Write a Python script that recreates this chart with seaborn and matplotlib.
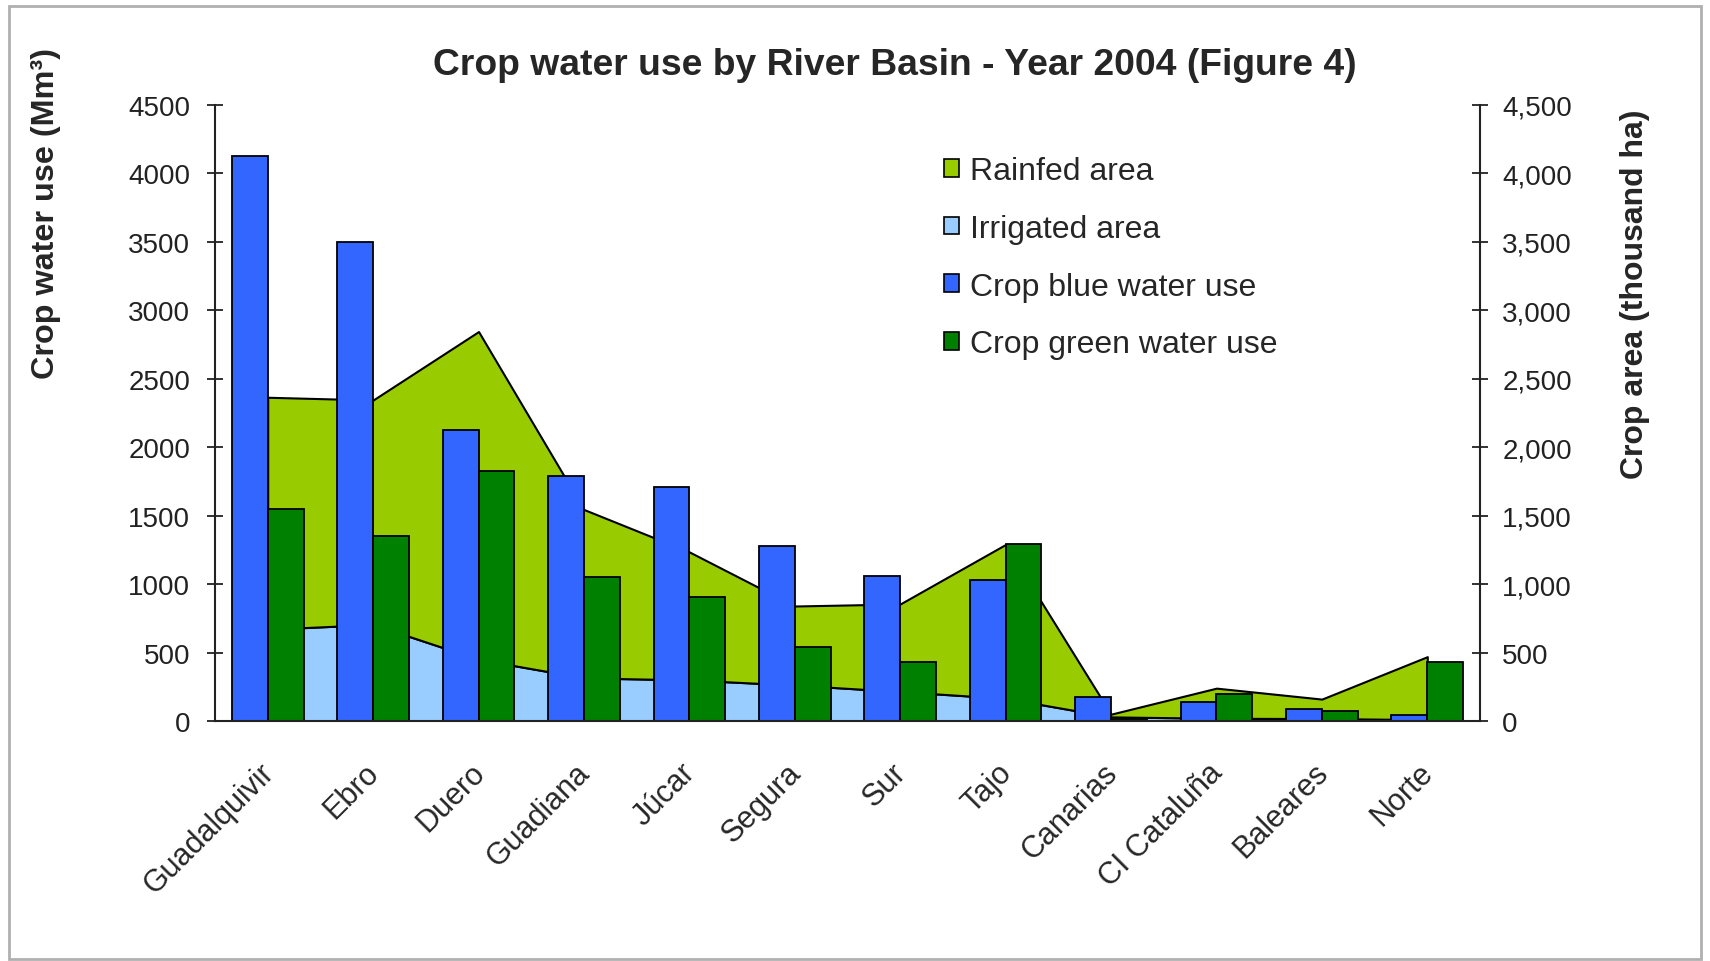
import numpy as np
import pandas as pd
import matplotlib
matplotlib.use('Agg')
import matplotlib.pyplot as plt
import matplotlib.patches as mpatches
import matplotlib.transforms as mtransforms
from matplotlib.ticker import MultipleLocator, FixedLocator, StrMethodFormatter, NullFormatter
import seaborn as sns

# ── Data ──────────────────────────────────────────────────────────────────────
basins = ['Guadalquivir', 'Ebro', 'Duero', 'Guadiana', 'Júcar', 'Segura',
          'Sur', 'Tajo', 'Canarias', 'CI Cataluña', 'Baleares', 'Norte']
blue_water  = [4130, 3500, 2127, 1790, 1712, 1275, 1060, 1032, 173, 141, 85, 45]
green_water = [1548, 1352, 1825, 1050, 905, 540, 434, 1295, 15, 200, 71, 434]
irrigated_area = [670, 705, 450, 315, 300, 262, 215, 165, 30, 20, 18, 10]
rainfed_area   = [1695, 1640, 2395, 1230, 935, 578, 640, 1125, 20, 220, 142, 460]

BLUE      = '#3366FF'
GREEN     = '#008000'
RAINFED   = '#99CC00'
IRRIGATED = '#99CCFF'

# ── Style ─────────────────────────────────────────────────────────────────────
sns.set_style('white')
plt.rcParams['font.family'] = ['Liberation Sans', 'DejaVu Sans']

W, H = 1710, 962
fig = plt.figure(figsize=(W / 100, H / 100), dpi=100)
ax = fig.add_axes([215 / W, 1 - 722 / H, 1265 / W, 616 / H])
ax2 = ax.twinx()

# ── Areas (secondary axis, behind the bars) ───────────────────────────────────
x = np.arange(len(basins))
ax2.stackplot(x, irrigated_area, rainfed_area, colors=[IRRIGATED, RAINFED],
              edgecolor='black', linewidth=1.5)
ax2.set_ylim(0, 4500)

# ── Bars ──────────────────────────────────────────────────────────────────────
df = pd.DataFrame({
    'basin':  basins * 2,
    'series': ['Crop blue water use'] * len(basins) + ['Crop green water use'] * len(basins),
    'value':  blue_water + green_water,
})
sns.barplot(data=df, x='basin', y='value', hue='series', palette=[BLUE, GREEN],
            width=0.68, saturation=1, errorbar=None, edgecolor='black',
            linewidth=1.3, legend=False, ax=ax)

ax.set_zorder(ax2.get_zorder() + 1)
ax.patch.set_visible(False)

ax.set_xlim(-0.5, len(basins) - 0.5)
ax.set_ylim(0, 4500)
ax.yaxis.set_major_locator(MultipleLocator(500))
ax2.yaxis.set_major_locator(MultipleLocator(500))
ax2.yaxis.set_major_formatter(StrMethodFormatter('{x:,.0f}'))

# spines
for a in (ax, ax2):
    a.spines['top'].set_visible(False)
    for s in ('left', 'right', 'bottom'):
        a.spines[s].set_color('#222222')
        a.spines[s].set_linewidth(1.5)
ax.spines['right'].set_visible(False)
ax2.spines['left'].set_visible(False)
ax2.spines['bottom'].set_visible(False)

# ticks
ax.tick_params(axis='y', direction='inout', length=12, width=1.3, pad=12,
               labelsize=20, colors='#222222')
ax2.tick_params(axis='y', direction='inout', length=12, width=1.3, pad=10,
                labelsize=20, colors='#222222')
ax.xaxis.set_minor_locator(FixedLocator(np.arange(-0.5, len(basins), 1.0)))
ax.xaxis.set_minor_formatter(NullFormatter())
ax.tick_params(axis='x', which='minor', direction='inout', length=20, width=1.3,
               color='#222222')
ax.tick_params(axis='x', which='major', length=0, pad=26, labelsize=22)
ax.set_xticks(x)
ax.set_xticklabels(basins, rotation=45, ha='right', va='top', rotation_mode='anchor')
shift = mtransforms.ScaledTranslation(-9 / 100, 0, fig.dpi_scale_trans)
for lbl in ax.get_xticklabels():
    lbl.set_transform(lbl.get_transform() + shift)
ax.set_xlabel('')

ax.set_ylabel('Crop water use (Mm³)', fontsize=23.3, fontweight='bold')
ax.yaxis.set_label_coords(-0.122, 0.826)
ax2.set_ylabel('Crop area (thousand ha)', fontsize=23, fontweight='bold', rotation=90)
ax2.yaxis.set_label_coords(1.111, 0.695)

fig.text(895 / W, 1 - 66 / H, 'Crop water use by River Basin - Year 2004 (Figure 4)',
         ha='center', va='center', fontsize=26.8, fontweight='bold')

# ── Legend ────────────────────────────────────────────────────────────────────
handles = [
    mpatches.Patch(facecolor=RAINFED, edgecolor='black', linewidth=1.2, label='Rainfed area'),
    mpatches.Patch(facecolor=IRRIGATED, edgecolor='black', linewidth=1.2, label='Irrigated area'),
    mpatches.Patch(facecolor=BLUE, edgecolor='black', linewidth=1.2, label='Crop blue water use'),
    mpatches.Patch(facecolor=GREEN, edgecolor='black', linewidth=1.2, label='Crop green water use'),
]
fig.legend(handles=handles, loc='upper left', bbox_to_anchor=(944 / W, 1 - 157 / H),
           frameon=False, fontsize=23, handlelength=0.48, handleheight=0.48,
           handletextpad=0.33, labelspacing=0.87, borderpad=0, borderaxespad=0)

# chart border
fig.patches.append(mpatches.Rectangle((9 / W, 2 / H), 1692 / W, 953 / H,
                                      transform=fig.transFigure, fill=False,
                                      edgecolor='#b0b0b0', linewidth=2))

fig.savefig('out.png', dpi=100)
